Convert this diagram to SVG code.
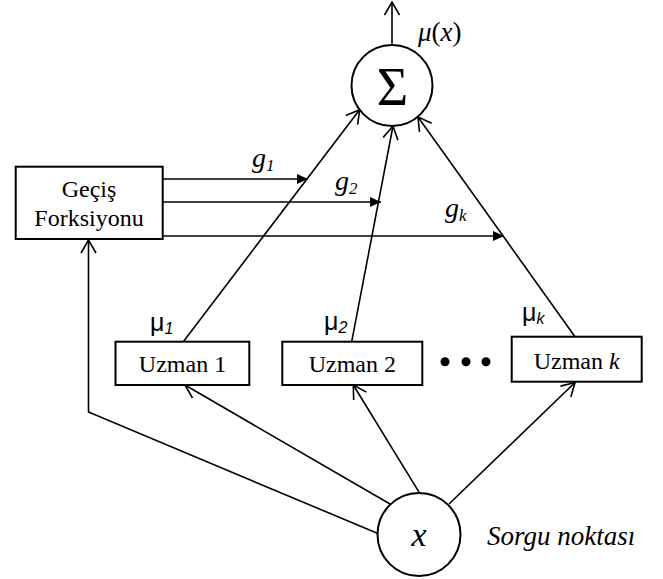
<svg xmlns="http://www.w3.org/2000/svg" width="663" height="579" viewBox="0 0 663 579">
<style>
.box{fill:#fff;stroke:#000;stroke-width:2}
.circ{fill:#fff;stroke:#000;stroke-width:2}
.ln{fill:none;stroke:#000;stroke-width:1.6}
.t{font-family:"Liberation Serif","Times New Roman",serif;font-size:24px;fill:#000}
.it{font-style:italic}
.mu{font-family:"Liberation Sans",Arial,sans-serif;font-size:25px;fill:#000}
.sub{font-size:16px;font-style:italic}
.g{font-family:"Liberation Serif","Times New Roman",serif;font-style:italic;font-size:28px;fill:#000}
.gs{font-size:17px}
</style>
<defs>
<marker id="open" markerUnits="userSpaceOnUse" viewBox="-16 -10 20 20" markerWidth="20" markerHeight="20" refX="0" refY="0" orient="auto">
<path d="M-13,-7.5 L0,0 L-13,7.5" fill="none" stroke="#000" stroke-width="1.6"/>
</marker>
<marker id="fill" markerUnits="userSpaceOnUse" viewBox="-14 -8 16 16" markerWidth="16" markerHeight="16" refX="0" refY="0" orient="auto">
<path d="M-11,-5 L0,0 L-11,5 Z" fill="#000"/>
</marker>
</defs>
<g id="connectors">
<line class="ln" x1="392" y1="45" x2="392" y2="2" marker-end="url(#open)"/>
<line class="ln" x1="183.3" y1="341.7" x2="359.6" y2="109.7" marker-end="url(#open)"/>
<line class="ln" x1="351.7" y1="341.7" x2="393" y2="126" marker-end="url(#open)"/>
<line class="ln" x1="575" y1="336.7" x2="418" y2="117" marker-end="url(#open)"/>
<line class="ln" x1="163" y1="179" x2="308" y2="179" marker-end="url(#fill)"/>
<line class="ln" x1="163" y1="202" x2="381" y2="202" marker-end="url(#fill)"/>
<line class="ln" x1="163" y1="236" x2="504" y2="236" marker-end="url(#fill)"/>
<polyline class="ln" points="377.3,533.3 88.5,412 88.5,240" marker-end="url(#open)"/>
<line class="ln" x1="390" y1="504" x2="185" y2="385" marker-end="url(#open)"/>
<line class="ln" x1="419.3" y1="492.7" x2="353.3" y2="385" marker-end="url(#open)"/>
<line class="ln" x1="449" y1="504" x2="575" y2="382.5" marker-end="url(#open)"/>
<text class="g" x="252" y="167">g<tspan class="gs" dy="4">1</tspan></text>
<text class="g" x="335" y="190">g<tspan class="gs" dy="4">2</tspan></text>
<text class="g" x="445" y="217">g<tspan class="gs" dy="4">k</tspan></text>
<text class="mu" x="150" y="331">μ<tspan class="sub" dy="3">1</tspan></text>
<text class="mu" x="324" y="330">μ<tspan class="sub" dy="3">2</tspan></text>
<text class="mu" x="522" y="321">μ<tspan class="sub" dy="3">k</tspan></text>
</g>
<g id="sum">
<circle class="circ" cx="392" cy="85.5" r="40.5"/>
<text class="t" x="392.5" y="105" text-anchor="middle" style="font-size:54px">Σ</text>
<text class="t" x="418" y="41" style="font-size:27px"><tspan class="it">μ</tspan>(<tspan class="it">x</tspan>)</text>
</g>
<g id="gate">
<rect class="box" x="15.7" y="166.7" width="147" height="72.3"/>
<text class="t" x="89" y="197" text-anchor="middle">Geçiş</text>
<text class="t" x="89" y="226" text-anchor="middle">Forksiyonu</text>
</g>
<g id="expert1">
<rect class="box" x="115.5" y="341.7" width="133.8" height="43.3"/>
<text class="t" x="182.5" y="372" text-anchor="middle">Uzman 1</text>
</g>
<g id="expert2">
<rect class="box" x="282.3" y="341.7" width="140" height="43.3"/>
<text class="t" x="352.3" y="372" text-anchor="middle">Uzman 2</text>
</g>
<g id="dots">
<circle cx="445" cy="361.7" r="4.5" fill="#000"/>
<circle cx="466" cy="361.7" r="4.5" fill="#000"/>
<circle cx="486" cy="361.7" r="4.5" fill="#000"/>
</g>
<g id="expertk">
<rect class="box" x="511.7" y="336.7" width="130" height="45"/>
<text class="t" x="576.7" y="368.5" text-anchor="middle">Uzman <tspan class="it">k</tspan></text>
</g>
<g id="query">
<circle class="circ" cx="419" cy="534.5" r="41.5"/>
<text class="t it" x="419" y="546" text-anchor="middle" style="font-size:34px">x</text>
<text class="t it" x="487" y="545" style="font-size:27px">Sorgu noktası</text>
</g>
</svg>
